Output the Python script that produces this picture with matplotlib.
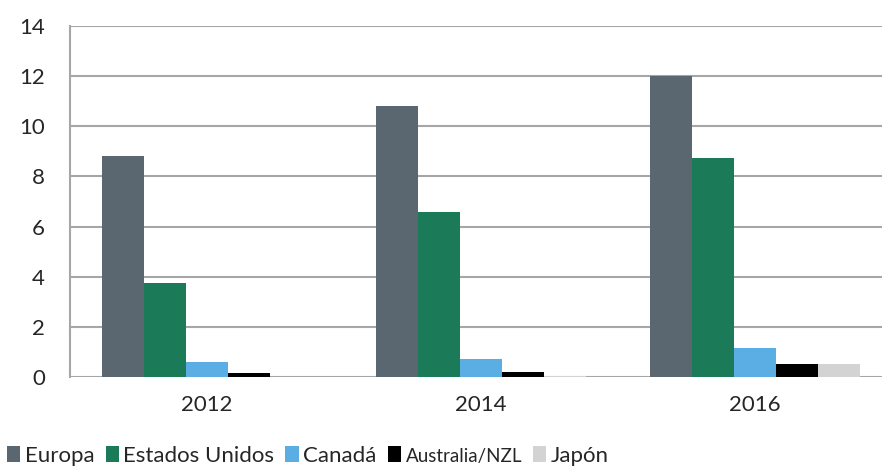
import matplotlib
matplotlib.use("Agg")
import matplotlib.pyplot as plt
import numpy as np

years = ["2012", "2014", "2016"]
series = ["Europa", "Estados Unidos", "Canadá", "Australia/NZL", "Japón"]
europa = [8.8, 10.8, 12.0]
estados_unidos = [3.75, 6.6, 8.75]
canada = [0.6, 0.72, 1.15]
australia = [0.15, 0.2, 0.5]
japon = [0.0, 0.05, 0.5]
values = [europa, estados_unidos, canada, australia, japon]
colors = ["#5b6770", "#1b7a57", "#5aaee3", "#000000", "#d3d3d3"]
yticks = [0, 2, 4, 6, 8, 10, 12, 14]

plt.rcParams['font.family'] = ['Lato', 'DejaVu Sans']

W, H = 882, 469
fig = plt.figure(figsize=(W / 100, H / 100), dpi=100)
ax = fig.add_axes([70 / W, (H - 377) / H, (W - 70) / W, (377 - 26) / H])

x = np.arange(len(years))
bw = 42 / 274
handles = []
for i, (vals, c, name) in enumerate(zip(values, colors, series)):
    b = ax.bar(x + (i - 2) * bw, vals, width=bw, color=c, label=name, zorder=3)
    handles.append(b)

ax.set_xlim(-0.5, 2.5 - 10 / 274)
ax.set_ylim(0, 14)
ax.set_yticks(yticks)
ax.set_yticklabels([str(t) for t in yticks], fontsize=16, color="#262626")
ax.set_xticks(x)
ax.set_xticklabels(years, fontsize=16, color="#262626")
ax.tick_params(axis="both", length=0)
ax.tick_params(axis="y", pad=18)
ax.tick_params(axis="x", pad=13)
ax.grid(axis="y", color="#a6a6a6", linewidth=1.5, zorder=0)
for s in ["top", "right", "bottom"]:
    ax.spines[s].set_visible(False)
ax.spines["left"].set_color("#a6a6a6")
ax.spines["left"].set_linewidth(1.5)

leg = fig.legend(handles=handles, labels=series, loc="center left",
                 bbox_to_anchor=(7 / W, (H - 456) / H), ncol=5, frameon=False,
                 fontsize=16, handlelength=0.6, handleheight=0.75,
                 handletextpad=0.2, columnspacing=0.5, borderpad=0, borderaxespad=0)
for t in leg.get_texts():
    t.set_color("#262626")
leg.get_texts()[3].set_fontsize(13.5)

fig.savefig("out.png", dpi=100)
